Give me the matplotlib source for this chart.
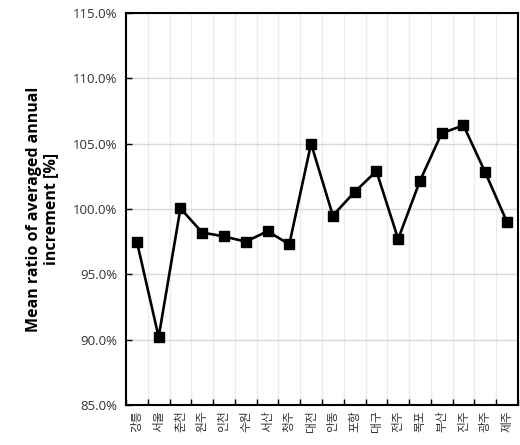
import matplotlib
matplotlib.use("Agg")
import matplotlib.pyplot as plt
from matplotlib.ticker import FuncFormatter

cities = ["강릉", "서울", "춘천", "원주", "인천", "수원", "서산", "청주", "대전",
          "안동", "포항", "대구", "전주", "목포", "부산", "진주", "광주", "제주"]
ratio = [97.5, 90.2, 100.05, 98.2, 97.9, 97.5, 98.3, 97.3, 105.0,
         99.5, 101.3, 102.9, 97.7, 102.15, 105.8, 106.4, 102.8, 99.0]
y_ticks = [85, 90, 95, 100, 105, 110, 115]

plt.rcParams["font.family"] = ["Noto Sans CJK KR", "DejaVu Sans"]

fig = plt.figure(figsize=(5.2, 4.45), dpi=100)
ax = fig.add_axes([0.2423, 0.0899, 0.7537, 0.8809])

x = [i + 0.5 for i in range(len(cities))]
ax.plot(x, ratio, color="black", lw=1.9, marker="s", markersize=7,
        zorder=3)

ax.set_xlim(0, len(cities))
ax.set_ylim(y_ticks[0], y_ticks[-1])
ax.set_yticks(y_ticks)
ax.yaxis.set_major_formatter(FuncFormatter(lambda v, p: f"{v:.1f}%"))
for lbl in ax.get_yticklabels():
    lbl.set_family(["Open Sans", "DejaVu Sans"])

# category labels centred between boundary ticks
ax.set_xticks(range(len(cities) + 1))
ax.set_xticklabels([])
ax.set_xticks(x, minor=True)
ax.set_xticklabels(cities, minor=True, rotation=90, fontsize=8.5, color="#333333")
ax.tick_params(axis="x", which="minor", length=0, pad=4)
ax.tick_params(axis="x", which="major", direction="in", length=4, width=1)
ax.tick_params(axis="y", direction="in", length=4, width=1,
               labelsize=9.5, labelcolor="#333333", pad=6)

ax.grid(axis="y", color="#d9d9d9", lw=1)
for xv in range(1, len(cities)):
    ax.axvline(xv, color="#ececec", lw=1, zorder=0)
ax.set_axisbelow(True)

for s in ax.spines.values():
    s.set_linewidth(1.5)
    s.set_color("black")

ax.set_ylabel("Mean ratio of averaged annual\nincrement [%]", fontsize=11.5,
              fontweight="bold", family=["Open Sans", "DejaVu Sans"],
              linespacing=1.05)
ax.yaxis.set_label_coords(-0.172, 0.5)

fig.savefig("out.png", dpi=100)
